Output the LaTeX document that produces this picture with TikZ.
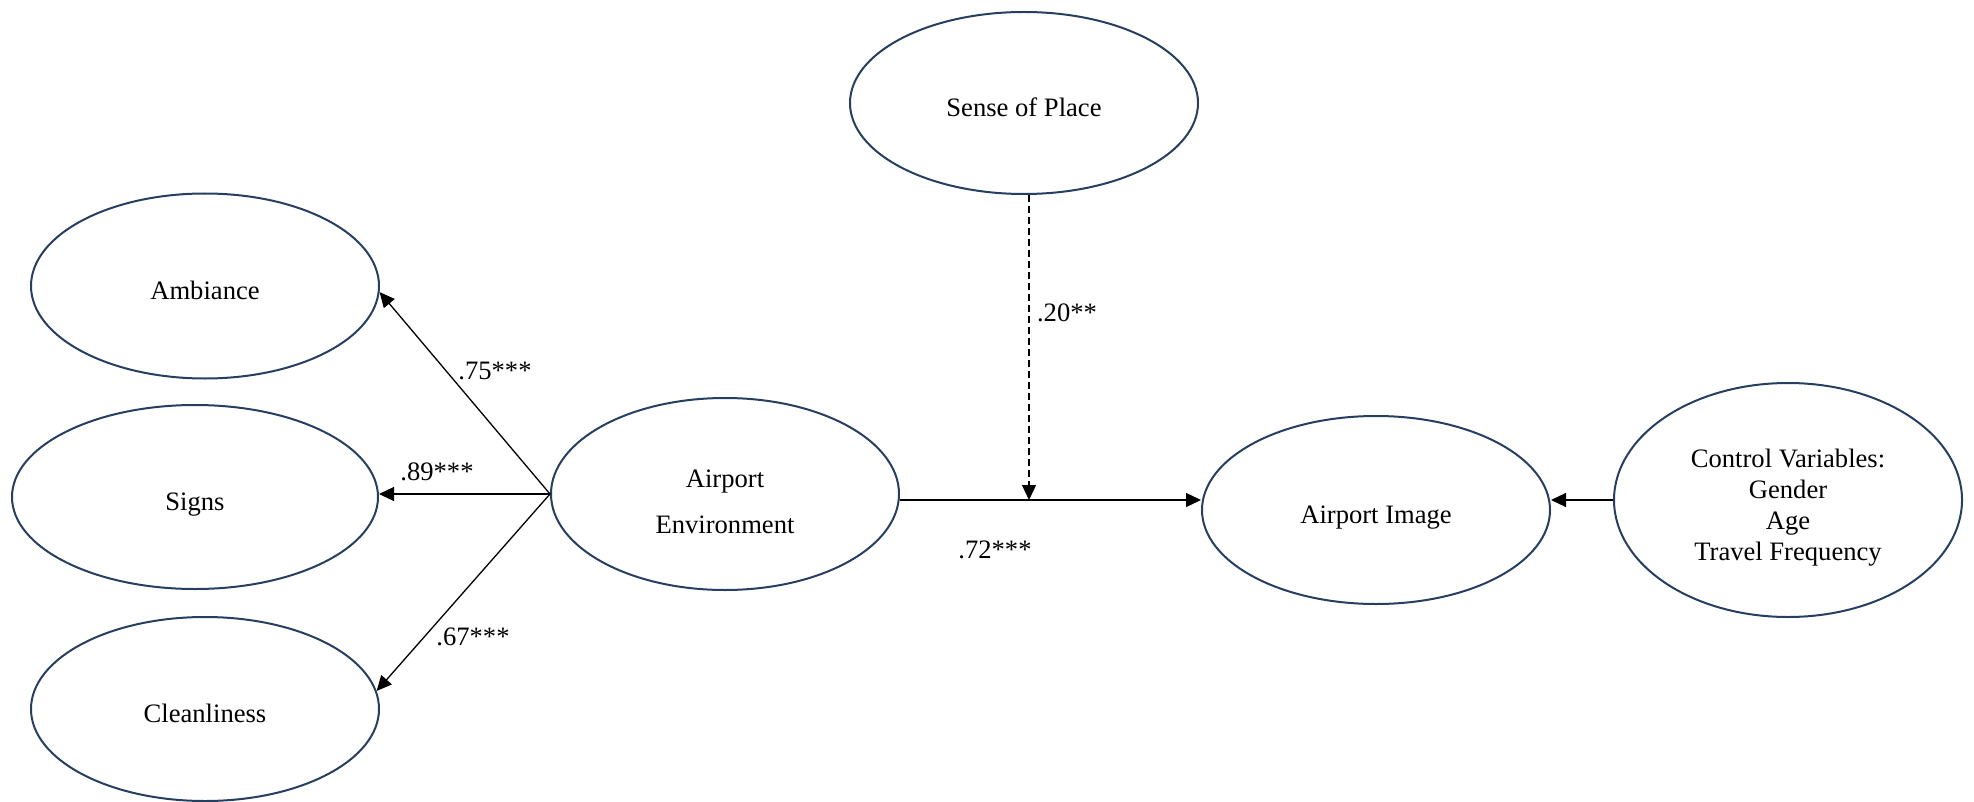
\documentclass[tikz,border=0pt]{standalone}
\usepackage{fontspec}
\setmainfont{Liberation Serif}
\usetikzlibrary{shapes.geometric,arrows.meta}
\definecolor{outline}{RGB}{38,62,95}
\begin{document}
\begin{tikzpicture}[x=0.5pt,y=-0.5pt,
  construct/.style={ellipse,draw=outline,line width=1pt,inner sep=0pt},
  ctext/.style={font=\fontsize{13.3}{15.5}\selectfont,align=center,inner sep=0pt,yshift=-3.7pt},
  oneline/.style={text height=9pt,text depth=3pt},
  path/.style={draw=black,line width=0.65pt,-{Triangle[length=7.5pt,width=7pt]}},
  moderation/.style={path,dash pattern=on 3.5pt off 2pt},
  coef/.style={font=\fontsize{13.3}{15.5}\selectfont,inner sep=0pt}]
\useasboundingbox (0,0) rectangle (1974,802);

% latent constructs
\node[construct,minimum width=174pt,minimum height=92.5pt,
  label={[ctext,oneline]center:Ambiance}] (amb) at (205,286) {};
\node[construct,minimum width=183pt,minimum height=92pt,
  label={[ctext,oneline]center:Signs}] (signs) at (195,497) {};
\node[construct,minimum width=174pt,minimum height=92pt,
  label={[ctext,oneline]center:Cleanliness}] (clean) at (205,709) {};
\node[construct,minimum width=174pt,minimum height=96pt,
  label={[ctext]center:Airport\\[7.5pt]Environment}] (env) at (725,494) {};
\node[construct,minimum width=174pt,minimum height=91pt,
  label={[ctext,oneline]center:Sense of Place}] (sop) at (1024,103) {};
\node[construct,minimum width=174pt,minimum height=94pt,
  label={[ctext,oneline]center:Airport Image}] (img) at (1376,510) {};
\node[construct,minimum width=174pt,minimum height=117pt,
  label={[ctext]center:Control Variables:\\Gender\\Age\\Travel Frequency}] (ctrl) at (1788,500) {};

% junction of the moderating path with the structural path
\coordinate (mid) at (1029,500);

% measurement paths
\draw[path] (env.west) -- (amb.-2);
\draw[path] (env.west) -- (signs.east |- env.west);
\draw[path] (env.west) -- (clean.6);

% structural path, moderation and controls
\draw[path] (env.east |- mid) -- (img.west |- mid);
\draw[moderation] (sop.south -| mid) -- (mid);
\draw[path] (ctrl.west) -- (img.east |- ctrl.west);

% coefficients
\node[coef] (c75) at (495,371) {.75***};
\node[coef] (c89) at (437,472) {.89***};
\node[coef] (c67) at (473,637) {.67***};
\node[coef] (c72) at (995,550) {.72***};
\node[coef] (c20) at (1067,313) {.20**};
\end{tikzpicture}
\end{document}
